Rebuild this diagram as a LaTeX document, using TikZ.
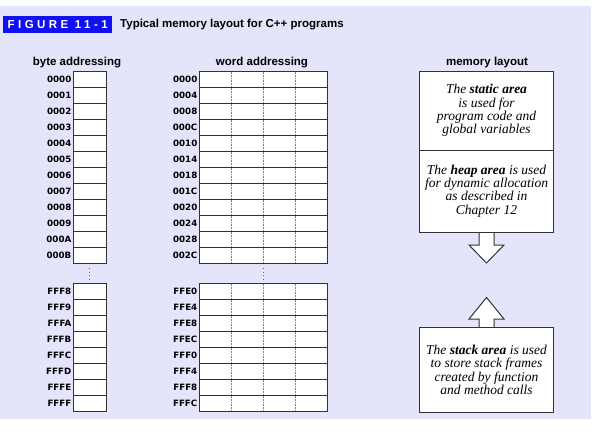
\documentclass[tikz,border=0pt]{standalone}
\usepackage{fontspec}
\setmainfont{Liberation Serif}
\setsansfont{Liberation Sans}
\newfontfamily\labfont{DejaVu Sans}
\newfontfamily\figfont{Liberation Sans}[LetterSpace=30]
\definecolor{bgl}{RGB}{228,228,250}
\definecolor{figblue}{RGB}{16,16,240}
\definecolor{edge}{RGB}{50,50,50}
\begin{document}
\begin{tikzpicture}[x=1pt,y=-1pt,
  bcell/.style={draw=edge,line width=1pt,fill=white,minimum width=33pt,minimum height=16pt,inner sep=0pt,outer sep=0pt,anchor=north west},
  wcell/.style={bcell,minimum width=128pt},
  lab/.style={font=\labfont\bfseries\fontsize{8.7}{9}\selectfont,anchor=east,inner sep=0pt,text=black},
  head/.style={font=\sffamily\bfseries\fontsize{11.5}{13}\selectfont,anchor=base,inner sep=0pt},
  dotline/.style={draw=gray,line width=0.6pt,dash pattern=on 0.8pt off 0.8pt},
  vdots/.style={draw=gray!80!black,line width=0.9pt,dash pattern=on 0.9pt off 2.6pt},
  membox/.style={draw=edge,line width=1pt,fill=white,minimum width=134pt,inner sep=0pt,outer sep=0pt,align=center,
    font=\fontsize{13.5}{13.4}\selectfont\itshape},
  arrowshape/.style={draw=edge,line width=1pt,fill=white,line join=miter}
]
\useasboundingbox (0,0) rectangle (607,442);
\fill[bgl] (0,6) rectangle (591,419);
% title
\node[fill=figblue,text=white,font=\figfont\bfseries\fontsize{11.5}{13}\selectfont,minimum width=109pt,minimum height=17pt,inner sep=0pt,anchor=north west] (fig) at (3,16) {FIGURE 11-1};
\node[font=\sffamily\bfseries\fontsize{11.5}{13}\selectfont,anchor=west,inner sep=0pt] (title) at (120,24.5) {Typical memory layout for C++ programs};
% headings
\node[head] (hb) at (77,65) {byte addressing};
\node[head] (hw) at (262,65) {word addressing};
\node[head] (hm) at (487,65) {memory layout};
% byte addressing
\foreach \t [count=\i] in {0000,0001,0002,0003,0004,0005,0006,0007,0008,0009,000A,000B}{
  \node[bcell] (b\i) at (73,{71+16*(\i-1)}) {};
  \node[lab] (bl\i) at ([xshift=-1.5pt]b\i.west) {\t};
}
\foreach \t [count=\i] in {FFF8,FFF9,FFFA,FFFB,FFFC,FFFD,FFFE,FFFF}{
  \node[bcell] (c\i) at (73,{283+16*(\i-1)}) {};
  \node[lab] (cl\i) at ([xshift=-1.5pt]c\i.west) {\t};
}
\draw[vdots] (89.5,268) -- (89.5,281);
% word addressing
\foreach \t [count=\i] in {0000,0004,0008,000C,0010,0014,0018,001C,0020,0024,0028,002C}{
  \node[wcell] (w\i) at (199,{71+16*(\i-1)}) {};
  \node[lab] (wl\i) at ([xshift=-1.5pt]w\i.west) {\t};
  \foreach \d in {32,64,96}{
    \draw[dotline] ([xshift=\d pt,yshift=-0.5pt]w\i.north west) -- ([xshift=\d pt,yshift=0.5pt]w\i.south west);
  }
}
\foreach \t [count=\i] in {FFE0,FFE4,FFE8,FFEC,FFF0,FFF4,FFF8,FFFC}{
  \node[wcell] (x\i) at (199,{283+16*(\i-1)}) {};
  \node[lab] (xl\i) at ([xshift=-1.5pt]x\i.west) {\t};
  \foreach \d in {32,64,96}{
    \draw[dotline] ([xshift=\d pt,yshift=-0.5pt]x\i.north west) -- ([xshift=\d pt,yshift=0.5pt]x\i.south west);
  }
}
\draw[vdots] (263,268) -- (263,281);
% memory layout
\coordinate (dtip) at (486.5,263);
\draw[arrowshape] (479,231) -- (479,245) -- (469,245) -- (dtip) -- (504,245) -- (494,245) -- (494,231);
\node[membox,minimum height=79pt,anchor=north] (static) at (486.5,71) {The \textbf{static area}\\is used for\\program code and\\global variables};
\node[membox,minimum height=82pt,anchor=north] (heap) at (static.south) {The \textbf{heap area} is used\\for dynamic allocation\\as described in\\Chapter 12};
\coordinate (utip) at (486.5,297.5);
\draw[arrowshape] (479,329) -- (479,319) -- (469,319) -- (utip) -- (504,319) -- (494,319) -- (494,329);
\node[membox,minimum height=85pt,anchor=north] (stack) at (486.5,327.5) {The \textbf{stack area} is used\\to store stack frames\\created by function\\and method calls};
\end{tikzpicture}
\end{document}
